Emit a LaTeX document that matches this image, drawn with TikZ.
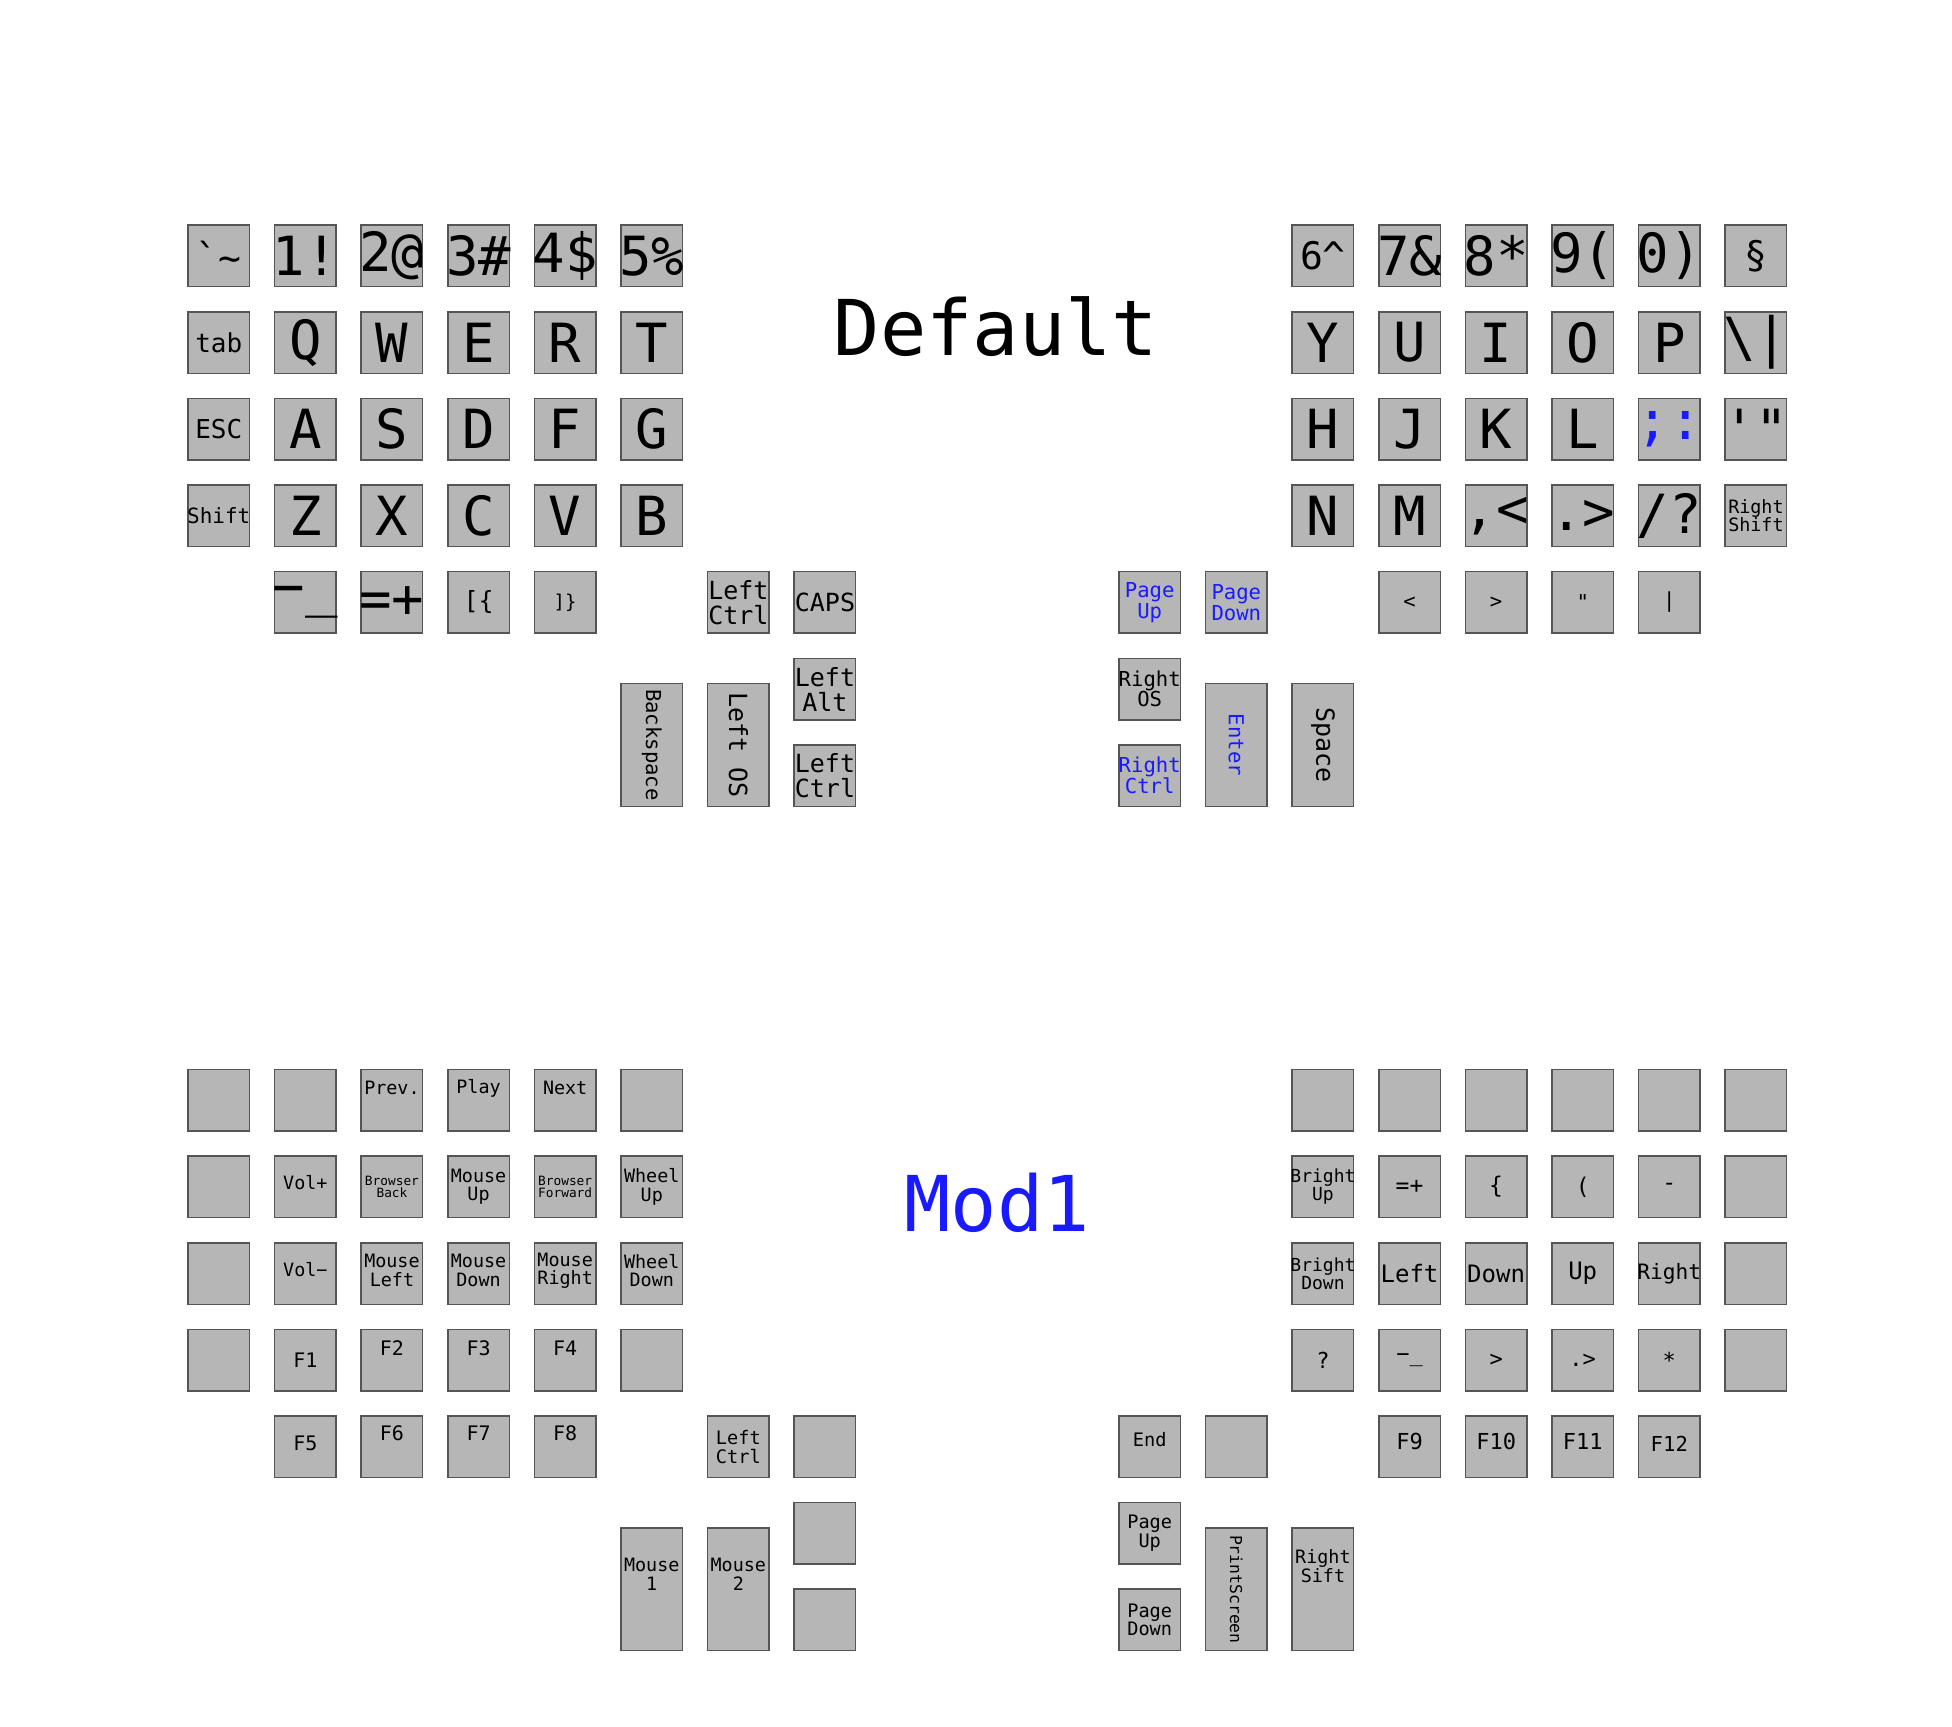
\documentclass[tikz,border=0pt]{standalone}
\usepackage{fontspec}
\setmonofont{DejaVu Sans Mono}
\usetikzlibrary{positioning}
\definecolor{kF}{RGB}{182,182,182}
\definecolor{kD}{RGB}{85,85,85}
\definecolor{kB}{RGB}{26,26,255}

\begin{document}
\begin{tikzpicture}[x=43.3pt, y=-43.3pt,
    keycap/.style={draw=kD, fill=kF, line width=0.75pt, minimum width=30.75pt,
                   minimum height=30.75pt, inner sep=0pt},
    tallcap/.style={keycap, minimum height=61.35pt},
    kf/.style={font=\ttfamily\fontsize{#1}{#1}\selectfont, align=center, inner sep=0pt},
    ttl/.style={font=\ttfamily\fontsize{38.5}{40}\selectfont, inner sep=0pt, anchor=base},
    hot/.style={text=kB}]

    \useasboundingbox (-2.526,-2.956) rectangle (20.014,16.975);

    % Titles
    \node[ttl] (tDef) at (8.975,1.151) {Default};
    \node[ttl, hot] (tMod) at (8.99,11.267) {Mod1};

    % Default layer, left half
    \node[keycap] (dl00) at (0,0) {}; \node[kf=19] (dl00t) at (dl00) {\textasciigrave\textasciitilde};
    \node[keycap] (dl01) at (1,0) {}; \node[kf=27] (dl01t) at (dl01) {1!};
    \node[keycap] (dl02) at (2,0) {}; \node[kf=27] (dl02t) at (dl02) {2@};
    \node[keycap] (dl03) at (3,0) {}; \node[kf=27] (dl03t) at (dl03) {3\#};
    \node[keycap] (dl04) at (4,0) {}; \node[kf=27] (dl04t) at (dl04) {4\$};
    \node[keycap] (dl05) at (5,0) {}; \node[kf=27] (dl05t) at (dl05) {5\%};

    \node[keycap] (dl10) at (0,1) {}; \node[kf=13] (dl10t) at (dl10) {tab};
    \node[keycap] (dl11) at (1,1) {}; \node[kf=27] (dl11t) at (dl11) {Q};
    \node[keycap] (dl12) at (2,1) {}; \node[kf=27] (dl12t) at (dl12) {W};
    \node[keycap] (dl13) at (3,1) {}; \node[kf=27] (dl13t) at (dl13) {E};
    \node[keycap] (dl14) at (4,1) {}; \node[kf=27] (dl14t) at (dl14) {R};
    \node[keycap] (dl15) at (5,1) {}; \node[kf=27] (dl15t) at (dl15) {T};

    \node[keycap] (dl20) at (0,2) {}; \node[kf=13] (dl20t) at (dl20) {ESC};
    \node[keycap] (dl21) at (1,2) {}; \node[kf=27] (dl21t) at (dl21) {A};
    \node[keycap] (dl22) at (2,2) {}; \node[kf=27] (dl22t) at (dl22) {S};
    \node[keycap] (dl23) at (3,2) {}; \node[kf=27] (dl23t) at (dl23) {D};
    \node[keycap] (dl24) at (4,2) {}; \node[kf=27] (dl24t) at (dl24) {F};
    \node[keycap] (dl25) at (5,2) {}; \node[kf=27] (dl25t) at (dl25) {G};

    \node[keycap] (dl30) at (0,3) {}; \node[kf=10.5] (dl30t) at (dl30) {Shift};
    \node[keycap] (dl31) at (1,3) {}; \node[kf=27] (dl31t) at (dl31) {Z};
    \node[keycap] (dl32) at (2,3) {}; \node[kf=27] (dl32t) at (dl32) {X};
    \node[keycap] (dl33) at (3,3) {}; \node[kf=27] (dl33t) at (dl33) {C};
    \node[keycap] (dl34) at (4,3) {}; \node[kf=27] (dl34t) at (dl34) {V};
    \node[keycap] (dl35) at (5,3) {}; \node[kf=27] (dl35t) at (dl35) {B};

    \node[keycap] (dl41) at (1,4) {}; \node[kf=27] (dl41t) at (dl41) {−\_};
    \node[keycap] (dl42) at (2,4) {}; \node[kf=27] (dl42t) at (dl42) {=+};
    \node[keycap] (dl43) at (3,4) {}; \node[kf=12.5] (dl43t) at (dl43) {[\{};
    \node[keycap] (dl44) at (4,4) {}; \node[kf=9.5] (dl44t) at (dl44) {]\}};

    % Default layer, left thumb
    \node[keycap] (dt1) at (6,4) {}; \node[kf=12.5] (dt1t) at (dt1) {Left\\Ctrl};
    \node[keycap] (dt2) at (7,4) {}; \node[kf=12.5] (dt2t) at (dt2) {CAPS};
    \node[keycap] (dt3) at (7,5) {}; \node[kf=12.5] (dt3t) at (dt3) {Left\\Alt};
    \node[keycap] (dt4) at (7,6) {}; \node[kf=12.5] (dt4t) at (dt4) {Left\\Ctrl};
    \node[tallcap] (dt5) at (5,5.646) {}; \node[kf=10.3, rotate=-90] (dt5t) at (dt5) {Backspace};
    \node[tallcap] (dt6) at (6,5.646) {}; \node[kf=12.5, rotate=-90] (dt6t) at (dt6) {Left OS};

    % Default layer, right half
    \node[keycap] (dr00) at (12.75,0) {}; \node[kf=19] (dr00t) at (dr00) {6\textasciicircum};
    \node[keycap] (dr01) at (13.75,0) {}; \node[kf=27] (dr01t) at (dr01) {7\&};
    \node[keycap] (dr02) at (14.75,0) {}; \node[kf=27] (dr02t) at (dr02) {8*};
    \node[keycap] (dr03) at (15.75,0) {}; \node[kf=27] (dr03t) at (dr03) {9(};
    \node[keycap] (dr04) at (16.75,0) {}; \node[kf=27] (dr04t) at (dr04) {0)};
    \node[keycap] (dr05) at (17.75,0) {}; \node[kf=19] (dr05t) at (dr05) {\S};

    \node[keycap] (dr10) at (12.75,1) {}; \node[kf=27] (dr10t) at (dr10) {Y};
    \node[keycap] (dr11) at (13.75,1) {}; \node[kf=27] (dr11t) at (dr11) {U};
    \node[keycap] (dr12) at (14.75,1) {}; \node[kf=27] (dr12t) at (dr12) {I};
    \node[keycap] (dr13) at (15.75,1) {}; \node[kf=27] (dr13t) at (dr13) {O};
    \node[keycap] (dr14) at (16.75,1) {}; \node[kf=27] (dr14t) at (dr14) {P};
    \node[keycap] (dr15) at (17.75,1) {}; \node[kf=27] (dr15t) at (dr15) {\textbackslash|};

    \node[keycap] (dr20) at (12.75,2) {}; \node[kf=27] (dr20t) at (dr20) {H};
    \node[keycap] (dr21) at (13.75,2) {}; \node[kf=27] (dr21t) at (dr21) {J};
    \node[keycap] (dr22) at (14.75,2) {}; \node[kf=27] (dr22t) at (dr22) {K};
    \node[keycap] (dr23) at (15.75,2) {}; \node[kf=27] (dr23t) at (dr23) {L};
    \node[keycap] (dr24) at (16.75,2) {}; \node[kf=27, hot] (dr24t) at (dr24) {;:};
    \node[keycap] (dr25) at (17.75,2) {}; \node[kf=27] (dr25t) at (dr25) {'"};

    \node[keycap] (dr30) at (12.75,3) {}; \node[kf=27] (dr30t) at (dr30) {N};
    \node[keycap] (dr31) at (13.75,3) {}; \node[kf=27] (dr31t) at (dr31) {M};
    \node[keycap] (dr32) at (14.75,3) {}; \node[kf=27] (dr32t) at (dr32) {,<};
    \node[keycap] (dr33) at (15.75,3) {}; \node[kf=27] (dr33t) at (dr33) {.>};
    \node[keycap] (dr34) at (16.75,3) {}; \node[kf=27] (dr34t) at (dr34) {/?};
    \node[keycap] (dr35) at (17.75,3) {}; \node[kf=9.2] (dr35t) at (dr35) {Right\\Shift};

    \node[keycap] (dr41) at (13.75,4) {}; \node[kf=10.3] (dr41t) at (dr41) {<};
    \node[keycap] (dr42) at (14.75,4) {}; \node[kf=10.3] (dr42t) at (dr42) {>};
    \node[keycap] (dr43) at (15.75,4) {}; \node[kf=10.3] (dr43t) at (dr43) {"};
    \node[keycap] (dr44) at (16.75,4) {}; \node[kf=10.3] (dr44t) at (dr44) {|};

    % Default layer, right thumb
    \node[keycap] (drt1) at (10.75,4) {}; \node[kf=10.3, hot] (drt1t) at (drt1) {Page\\Up};
    \node[keycap] (drt2) at (11.75,4) {}; \node[kf=10.3, hot] (drt2t) at (drt2) {Page\\Down};
    \node[keycap] (drt3) at (10.75,5) {}; \node[kf=10.3] (drt3t) at (drt3) {Right\\OS};
    \node[keycap] (drt4) at (10.75,6) {}; \node[kf=10.3, hot] (drt4t) at (drt4) {Right\\Ctrl};
    \node[tallcap] (drt5) at (11.75,5.646) {}; \node[kf=10.3, hot, rotate=-90] (drt5t) at (drt5) {Enter};
    \node[tallcap] (drt6) at (12.75,5.646) {}; \node[kf=12.5, rotate=-90] (drt6t) at (drt6) {Space};

    % Mod1 layer, left half
    \node[keycap] (ml00) at (0,9.75) {};
    \node[keycap] (ml01) at (1,9.75) {};
    \node[keycap] (ml02) at (2,9.75) {}; \node[kf=9.2, yshift=6pt] (ml02t) at (ml02) {Prev.};
    \node[keycap] (ml03) at (3,9.75) {}; \node[kf=9.2, yshift=6pt] (ml03t) at (ml03) {Play};
    \node[keycap] (ml04) at (4,9.75) {}; \node[kf=9.2, yshift=6pt] (ml04t) at (ml04) {Next};
    \node[keycap] (ml05) at (5,9.75) {};

    \node[keycap] (ml10) at (0,10.75) {};
    \node[keycap] (ml11) at (1,10.75) {}; \node[kf=9.2, yshift=2pt] (ml11t) at (ml11) {Vol+};
    \node[keycap] (ml12) at (2,10.75) {}; \node[kf=6.4] (ml12t) at (ml12) {Browser\\Back};
    \node[keycap] (ml13) at (3,10.75) {}; \node[kf=9.2] (ml13t) at (ml13) {Mouse\\Up};
    \node[keycap] (ml14) at (4,10.75) {}; \node[kf=6.4] (ml14t) at (ml14) {Browser\\Forward};
    \node[keycap] (ml15) at (5,10.75) {}; \node[kf=9.2] (ml15t) at (ml15) {Wheel\\Up};

    \node[keycap] (ml20) at (0,11.75) {};
    \node[keycap] (ml21) at (1,11.75) {}; \node[kf=9.2, yshift=2pt] (ml21t) at (ml21) {Vol−};
    \node[keycap] (ml22) at (2,11.75) {}; \node[kf=9.2, yshift=1.5pt] (ml22t) at (ml22) {Mouse\\Left};
    \node[keycap] (ml23) at (3,11.75) {}; \node[kf=9.2, yshift=1.5pt] (ml23t) at (ml23) {Mouse\\Down};
    \node[keycap] (ml24) at (4,11.75) {}; \node[kf=9.2, yshift=1.5pt] (ml24t) at (ml24) {Mouse\\Right};
    \node[keycap] (ml25) at (5,11.75) {}; \node[kf=9.2, yshift=1.5pt] (ml25t) at (ml25) {Wheel\\Down};

    \node[keycap] (ml30) at (0,12.75) {};
    \node[keycap] (ml31) at (1,12.75) {}; \node[kf=10] (ml31t) at (ml31) {F1};
    \node[keycap] (ml32) at (2,12.75) {}; \node[kf=10, yshift=6pt] (ml32t) at (ml32) {F2};
    \node[keycap] (ml33) at (3,12.75) {}; \node[kf=10, yshift=6pt] (ml33t) at (ml33) {F3};
    \node[keycap] (ml34) at (4,12.75) {}; \node[kf=10, yshift=6pt] (ml34t) at (ml34) {F4};
    \node[keycap] (ml35) at (5,12.75) {};

    \node[keycap] (ml41) at (1,13.75) {}; \node[kf=10, yshift=1.5pt] (ml41t) at (ml41) {F5};
    \node[keycap] (ml42) at (2,13.75) {}; \node[kf=10, yshift=7pt] (ml42t) at (ml42) {F6};
    \node[keycap] (ml43) at (3,13.75) {}; \node[kf=10, yshift=7pt] (ml43t) at (ml43) {F7};
    \node[keycap] (ml44) at (4,13.75) {}; \node[kf=10, yshift=7pt] (ml44t) at (ml44) {F8};

    % Mod1 layer, left thumb
    \node[keycap] (mt1) at (6,13.75) {}; \node[kf=9.3] (mt1t) at (mt1) {Left\\Ctrl};
    \node[keycap] (mt2) at (7,13.75) {};
    \node[keycap] (mt3) at (7,14.75) {};
    \node[keycap] (mt4) at (7,15.75) {};
    \node[tallcap] (mt5) at (5,15.396) {}; \node[kf=9.2, yshift=7.5pt] (mt5t) at (mt5) {Mouse\\1};
    \node[tallcap] (mt6) at (6,15.396) {}; \node[kf=9.2, yshift=7.5pt] (mt6t) at (mt6) {Mouse\\2};

    % Mod1 layer, right half
    \foreach \col in {0,...,5}
        \node[keycap] (mr0\col) at (12.75+\col,9.75) {};

    \node[keycap] (mr10) at (12.75,10.75) {}; \node[kf=9] (mr10t) at (mr10) {Bright\\Up};
    \node[keycap] (mr11) at (13.75,10.75) {}; \node[kf=11.5] (mr11t) at (mr11) {=+};
    \node[keycap] (mr12) at (14.75,10.75) {}; \node[kf=11.5] (mr12t) at (mr12) {\{};
    \node[keycap] (mr13) at (15.75,10.75) {}; \node[kf=11.5] (mr13t) at (mr13) {(};
    \node[keycap] (mr14) at (16.75,10.75) {}; \node[kf=11.5] (mr14t) at (mr14) {-};
    \node[keycap] (mr15) at (17.75,10.75) {};

    \node[keycap] (mr20) at (12.75,11.75) {}; \node[kf=9] (mr20t) at (mr20) {Bright\\Down};
    \node[keycap] (mr21) at (13.75,11.75) {}; \node[kf=12] (mr21t) at (mr21) {Left};
    \node[keycap] (mr22) at (14.75,11.75) {}; \node[kf=12] (mr22t) at (mr22) {Down};
    \node[keycap] (mr23) at (15.75,11.75) {}; \node[kf=12] (mr23t) at (mr23) {Up};
    \node[keycap] (mr24) at (16.75,11.75) {}; \node[kf=10.6] (mr24t) at (mr24) {Right};
    \node[keycap] (mr25) at (17.75,11.75) {};

    \node[keycap] (mr30) at (12.75,12.75) {}; \node[kf=11] (mr30t) at (mr30) {?};
    \node[keycap] (mr31) at (13.75,12.75) {}; \node[kf=11] (mr31t) at (mr31) {−\_};
    \node[keycap] (mr32) at (14.75,12.75) {}; \node[kf=11] (mr32t) at (mr32) {>};
    \node[keycap] (mr33) at (15.75,12.75) {}; \node[kf=11] (mr33t) at (mr33) {.>};
    \node[keycap] (mr34) at (16.75,12.75) {}; \node[kf=11] (mr34t) at (mr34) {*};
    \node[keycap] (mr35) at (17.75,12.75) {};

    \node[keycap] (mr41) at (13.75,13.75) {}; \node[kf=11, yshift=2.5pt] (mr41t) at (mr41) {F9};
    \node[keycap] (mr42) at (14.75,13.75) {}; \node[kf=11, yshift=2.5pt] (mr42t) at (mr42) {F10};
    \node[keycap] (mr43) at (15.75,13.75) {}; \node[kf=11, yshift=2.5pt] (mr43t) at (mr43) {F11};
    \node[keycap] (mr44) at (16.75,13.75) {}; \node[kf=10.3, yshift=1.5pt] (mr44t) at (mr44) {F12};

    % Mod1 layer, right thumb
    \node[keycap] (mrt1) at (10.75,13.75) {}; \node[kf=9.3, yshift=3.5pt] (mrt1t) at (mrt1) {End};
    \node[keycap] (mrt2) at (11.75,13.75) {};
    \node[keycap] (mrt3) at (10.75,14.75) {}; \node[kf=9.3] (mrt3t) at (mrt3) {Page\\Up};
    \node[keycap] (mrt4) at (10.75,15.75) {}; \node[kf=9.3] (mrt4t) at (mrt4) {Page\\Down};
    \node[tallcap] (mrt5) at (11.75,15.396) {}; \node[kf=8.2, rotate=-90] (mrt5t) at (mrt5) {PrintScreen};
    \node[tallcap] (mrt6) at (12.75,15.396) {}; \node[kf=9.2, yshift=11.5pt] (mrt6t) at (mrt6) {Right\\Sift};
\end{tikzpicture}
\end{document}
